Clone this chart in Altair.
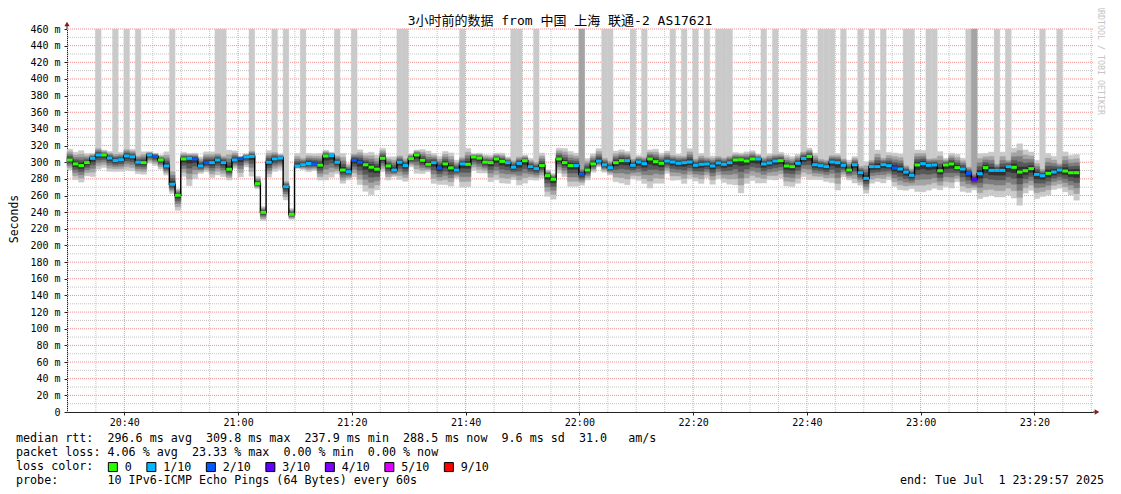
import altair as alt
import pandas as pd

MONO = "DejaVu Sans Mono"
CJK = "DejaVu Sans Mono, Noto Sans CJK SC"

# time axis (minutes after 20:00)
T0 = 29.92       # start of first 60 s sample
T_END = 210.30   # right edge of the time axis

# median rtt per 60 s sample (ms)
median = [
    302.7, 298.0, 296.0, 299.5, 304.7, 308.7, 308.7, 305.0, 302.0, 303.0,
    307.5, 306.5, 300.0, 299.5, 308.7, 307.0, 302.7, 295.5, 273.4, 260.2,
    303.9, 304.7, 304.0, 295.5, 299.5, 299.5, 302.7, 299.5, 291.5, 302.7,
    304.3, 306.3, 307.0, 274.2, 239.8, 300.0, 304.0, 305.0, 270.6, 237.4,
    295.5, 297.0, 298.5, 298.0, 296.5, 307.5, 308.0, 300.0, 290.6, 288.6,
    302.3, 300.0, 297.0, 294.0, 291.7, 304.7, 295.5, 290.6, 300.0, 296.0,
    304.3, 308.7, 302.3, 297.5, 299.5, 293.2, 298.0, 293.2, 290.6, 298.0,
    297.5, 306.3, 305.0, 300.0, 299.5, 303.9, 301.0, 299.5, 294.0, 298.5,
    301.8, 294.7, 292.3, 296.0, 283.9, 279.5, 303.9, 299.5, 296.0, 296.0,
    285.4, 290.6, 298.0, 301.4, 297.0, 293.5, 299.5, 301.9, 301.9, 296.3,
    300.3, 298.3, 303.9, 300.7, 298.7, 301.5, 300.3, 298.7, 299.5, 300.3,
    296.3, 297.5, 297.9, 295.5, 299.1, 297.5, 299.5, 302.7, 303.0, 301.5,
    303.9, 303.9, 297.9, 299.1, 301.5, 301.9, 295.5, 294.7, 298.7, 304.6,
    307.0, 297.0, 295.9, 294.7, 300.3, 299.5, 296.3, 290.6, 297.0, 287.4,
    280.6, 294.7, 294.7, 297.1, 295.9, 293.1, 291.9, 288.2, 284.2, 296.7,
    298.3, 296.3, 296.7, 289.8, 296.7, 297.9, 293.5, 291.9, 286.6, 279.5,
    286.2, 293.5, 290.2, 290.2, 290.2, 294.7, 293.9, 288.2, 289.8, 292.3,
    285.4, 283.8, 286.6, 288.2, 290.6, 289.4, 287.4, 287.4,
]

# packet loss level per sample (index into loss_labels)
loss = [
    0, 0, 0, 0, 1, 1, 0, 1, 1, 1, 1, 1, 1, 0, 1, 2, 0, 1, 1, 0,
    0, 1, 2, 1, 2, 1, 1, 1, 0, 1, 2, 1, 1, 0, 0, 1, 1, 1, 1, 0,
    1, 1, 1, 2, 0, 0, 1, 1, 0, 1, 2, 2, 0, 0, 0, 0, 0, 1, 1, 1,
    0, 0, 0, 0, 1, 2, 0, 0, 1, 1, 0, 0, 0, 0, 0, 0, 0, 1, 1, 1,
    0, 1, 1, 0, 0, 0, 0, 0, 0, 1, 2, 0, 0, 1, 1, 1, 0, 0, 1, 1,
    1, 1, 0, 0, 0, 1, 1, 1, 1, 1, 1, 1, 1, 1, 1, 1, 1, 0, 0, 0,
    0, 1, 1, 1, 1, 0, 0, 0, 1, 1, 0, 1, 1, 1, 1, 1, 1, 0, 1, 1,
    1, 1, 1, 1, 1, 2, 1, 1, 1, 0, 1, 1, 1, 0, 0, 0, 0, 1, 2, 3,
    1, 0, 1, 1, 1, 1, 0, 0, 0, 0, 1, 1, 0, 1, 1, 0, 0, 0,
]

# smoke spread above / below the median (ms), read per sample
up = [
    13, 14, 18, 11, 6, 10, 6, 8, 10, 9, 10, 9, 10, 13, 4, 4, 6, 17, 20, 8,
    8, 6, 7, 11, 13, 13, 10, 10, 23, 11, 3, 4, 8, 9, 7, 14, 10, 5, 8, 7,
    15, 10, 12, 12, 14, 7, 4, 10, 20, 10, 10, 15, 14, 18, 17, 12, 11, 16, 10, 10,
    6, 6, 13, 16, 11, 14, 15, 18, 12, 10, 19, 4, 6, 9, 9, 7, 10, 7, 10, 10,
    7, 10, 10, 15, 7, 7, 13, 17, 17, 15, 10, 14, 12, 15, 10, 10, 14, 13, 11, 10,
    8, 10, 11, 15, 12, 12, 10, 11, 10, 16, 10, 13, 10, 12, 10, 10, 10, 9, 8, 11,
    10, 6, 10, 11, 10, 10, 13, 12, 11, 10, 10, 14, 10, 10, 10, 11, 10, 12, 10, 10,
    20, 10, 20, 10, 16, 18, 18, 10, 10, 18, 16, 10, 10, 23, 8, 13, 16, 13, 10, 10,
    24, 17, 22, 10, 22, 10, 23, 34, 25, 20, 17, 10, 24, 19, 10, 23, 21, 22,
]
dn = [
    12, 19, 20, 16, 22, 17, 15, 16, 13, 14, 17, 17, 14, 14, 10, 11, 11, 11, 11, 18,
    21, 33, 24, 9, 11, 18, 18, 17, 13, 10, 22, 12, 24, 6, 10, 18, 15, 14, 16, 6,
    3, 6, 10, 8, 18, 29, 26, 14, 16, 10, 20, 27, 32, 33, 25, 16, 17, 8, 21, 19,
    10, 22, 16, 9, 25, 20, 25, 22, 10, 28, 27, 16, 18, 13, 23, 25, 26, 25, 15, 26,
    27, 16, 14, 15, 25, 24, 17, 17, 25, 25, 13, 12, 10, 7, 9, 9, 23, 27, 29, 16,
    22, 24, 35, 26, 24, 15, 22, 20, 25, 20, 19, 23, 17, 22, 19, 22, 26, 30, 40, 27,
    26, 29, 23, 20, 23, 21, 24, 24, 24, 22, 28, 18, 17, 18, 25, 33, 14, 12, 22, 15,
    18, 20, 18, 22, 17, 22, 25, 22, 16, 32, 34, 30, 28, 23, 26, 29, 17, 27, 23, 13,
    30, 35, 30, 32, 32, 34, 37, 40, 27, 26, 29, 25, 26, 21, 22, 25, 27, 33,
]

# samples whose slowest ping is off the scale (and those whose two slowest are)
spike = [5, 8, 10, 12, 18, 26, 27, 32, 36, 38, 41, 47, 50, 58, 59, 69, 78, 79, 82,
         90, 94, 95, 99, 101, 106, 108, 110, 112, 114, 115, 116, 122, 124, 129,
         132, 133, 134, 136, 139, 141, 143, 147, 148, 151, 152, 158, 159, 163,
         165, 171, 174]
spike2 = [90, 159]

loss_labels = ["0", "1/10", "2/10", "3/10", "4/10", "5/10", "9/10"]
loss_colors = ["#26ff00", "#00b8ff", "#0059ff", "#5e00ff", "#7e00ff", "#dd00ff", "#ff0000"]
smoke_colors = ["#cacaca", "#a4a4a4", "#7e7e7e", "#585858", "#323232"]
band_frac = [1.0, 0.76, 0.55, 0.36, 0.18]

x_major = [40, 60, 80, 100, 120, 140, 160, 180, 200]
x_minor = [m for m in range(30, 211, 5) if m % 20 != 0]
y_major = list(range(20, 461, 20))
y_minor = list(range(10, 460, 20))
y_ticks = list(range(0, 461, 20))
Y_TOP = 460

# ---------------------------------------------------------------- tables
smoke_rows, line_rows, seg_rows = [], [], []
for i, m in enumerate(median):
    t0, t1 = T0 + i, T0 + i + 1
    for k, f in enumerate(band_frac):
        hi = m + f * up[i]
        if (k == 0 and i in spike) or (k <= 1 and i in spike2):
            hi = Y_TOP
        smoke_rows.append(dict(t0=t0, t1=t1, band=k, lo=m - f * dn[i], hi=min(hi, Y_TOP)))
    line_rows.append(dict(seq=2 * i, t=t0, v=m))
    line_rows.append(dict(seq=2 * i + 1, t=t1, v=m))
    seg_rows.append(dict(t0=t0, t1=t1, v=m, lo=m - 1.8, hi=m + 1.8, loss=loss_labels[loss[i]]))

smoke = pd.DataFrame(smoke_rows)
line_df = pd.DataFrame(line_rows)
seg_df = pd.DataFrame(seg_rows)

xs = alt.Scale(domain=[T0, T_END], nice=False, zero=False)
ys = alt.Scale(domain=[0, Y_TOP], nice=False, zero=False)

AX = "#222"
x_axis = alt.Axis(values=x_major, title=None, grid=False, tickSize=3, labelPadding=2,
                  domainColor=AX, tickColor=AX, labelFont=MONO, labelFontSize=10,
                  labelColor="#000", labelFlush=False, labelOverlap=False,
                  labelExpr="format(floor(datum.value/60)+20,'d') + ':' + format(datum.value%60,'02d')")
y_axis = alt.Axis(values=y_ticks, title=None, grid=False, tickSize=3, labelPadding=4,
                  domainColor=AX, tickColor=AX, labelFont=MONO, labelFontSize=10,
                  labelColor="#000", labelFlush=False, labelOverlap=False,
                  labelExpr="datum.value == 0 ? '0' : datum.value + ' m'")


def X(field):
    return alt.X(field, scale=xs, axis=x_axis)


def Y(field):
    return alt.Y(field, scale=ys, axis=y_axis)


layers = []

# grid
layers.append(alt.Chart(pd.DataFrame({"t": x_minor})).mark_rule(color="#c4c4c4", strokeDash=[1, 1]).encode(x=X("t:Q")))
layers.append(alt.Chart(pd.DataFrame({"v": y_minor})).mark_rule(color="#c4c4c4", strokeDash=[1, 1]).encode(y=Y("v:Q")))
layers.append(alt.Chart(pd.DataFrame({"t": x_major})).mark_rule(color="#ef9090", strokeDash=[1, 1]).encode(x=X("t:Q")))
layers.append(alt.Chart(pd.DataFrame({"v": y_major})).mark_rule(color="#ef9090", strokeDash=[1, 1]).encode(y=Y("v:Q")))

# smoke
for k, c in enumerate(smoke_colors):
    layers.append(
        alt.Chart(smoke).transform_filter(alt.datum.band == k)
        .mark_rect(color=c, stroke=c, strokeWidth=0.4)
        .encode(x=X("t0:Q"), x2="t1:Q", y=Y("lo:Q"), y2="hi:Q")
    )

# median step line
layers.append(
    alt.Chart(line_df).mark_line(color="#000", strokeWidth=1.4, interpolate="linear").encode(
        x=X("t:Q"), y=Y("v:Q"), order="seq:Q")
)

# loss coloured median segments
layers.append(
    alt.Chart(seg_df).mark_rect().encode(
        x=X("t0:Q"), x2="t1:Q", y=Y("lo:Q"), y2="hi:Q",
        color=alt.Color(
            "loss:N",
            scale=alt.Scale(domain=loss_labels, range=loss_colors),
            legend=alt.Legend(
                orient="none", legendX=40, legendY=432, direction="horizontal",
                columns=7, title=None, symbolType="square", symbolSize=81,
                symbolStrokeColor="#000", symbolStrokeWidth=1, symbolOpacity=1,
                labelFont=MONO, labelFontSize=11.7, labelColor="#000",
                labelOffset=6, columnPadding=12.5, padding=0,
            ),
        ),
    )
)

# axis arrows
ARROW = "#8b1a1a"
one = pd.DataFrame({"a": [0]})
layers.append(alt.Chart(one).mark_rule(color=AX).encode(
    x=alt.value(0), y=alt.value(-4), y2=alt.value(0)))
layers.append(alt.Chart(one).mark_rule(color=AX).encode(
    x=alt.value(1026), x2=alt.value(1030), y=alt.value(383)))
layers.append(alt.Chart(one).mark_point(shape="triangle-up", filled=True, size=28, color=ARROW, opacity=1).encode(
    x=alt.value(0), y=alt.value(-5)))
layers.append(alt.Chart(one).mark_point(shape="triangle-right", filled=True, size=28, color=ARROW, opacity=1).encode(
    x=alt.value(1030), y=alt.value(383)))

NBSP = "\u00a0"


def txt(s, px, py, align="left", size=11.7, color="#000", angle=0, font=MONO):
    return alt.Chart(pd.DataFrame({"s": [s.replace(" ", NBSP)]})).mark_text(
        align=align, baseline="middle", font=font, fontSize=size, color=color, angle=angle
    ).encode(x=alt.value(px), y=alt.value(py), text="s:N")


# texts (page coordinates minus plot origin 67, 29)
layers.append(txt("3小时前的数据 from 中国 上海 联通-2 AS17621", 493, -8, align="center", size=13, font=CJK))
layers.append(txt("Seconds", -52, 190, align="center", size=11.5, angle=270))
layers.append(txt("RRDTOOL / TOBI OETIKER", 1033, 31, align="center", size=8.3, color="#c4c4c4", angle=90))

L1, L2, L3, L4 = 409, 423, 437, 451
layers.append(txt("median rtt:  296.6 ms avg  309.8 ms max  237.9 ms min  288.5 ms now  9.6 ms sd  31.0   am/s", -51, L1))
layers.append(txt("packet loss: 4.06 % avg  23.33 % max  0.00 % min  0.00 % now", -51, L2))
layers.append(txt("loss color:", -51, L3))
layers.append(txt("probe:       10 IPv6-ICMP Echo Pings (64 Bytes) every 60s", -51, L4))
layers.append(txt("end: Tue Jul  1 23:29:57 2025", 1037, L4, align="right"))

chart = alt.layer(*layers).properties(
    width=1026, height=383,
    autosize=alt.AutoSizeParams(type="none"),
    padding={"left": 59, "top": 21, "right": 20, "bottom": 76},
    background="white",
).configure_view(stroke=None)

chart.save("out.html", embed_options={"renderer": "svg", "actions": False})
